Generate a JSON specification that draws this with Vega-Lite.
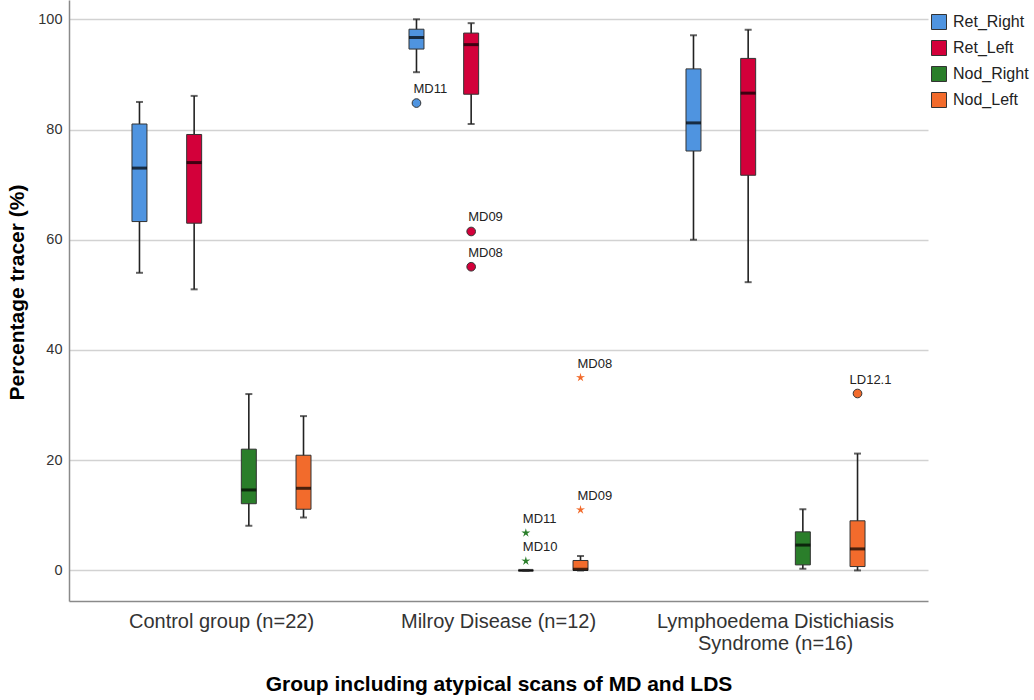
{
  "$schema": "https://vega.github.io/schema/vega-lite/v6.json",
  "width": 859,
  "height": 601,
  "autosize": {"type": "none"},
  "padding": {"left": 69, "top": 0, "right": 106, "bottom": 99},
  "background": "white",
  "config": {
    "font": "Liberation Sans",
    "view": {"stroke": null},
    "axis": {"domainColor": "#8a8a8a", "domainWidth": 1.5, "ticks": false, "labelColor": "#333333", "titleColor": "#000000", "titleFontSize": 21, "titleFontWeight": "bold"}
  },
  "datasets": {
    "boxes": [
      {"group": "Control group (n=22)", "series": "Ret_Right", "min": 54.0, "q1": 63.3, "median": 73.0, "q3": 81.0, "max": 85.0},
      {"group": "Control group (n=22)", "series": "Ret_Left", "min": 51.0, "q1": 63.0, "median": 74.0, "q3": 79.1, "max": 86.1},
      {"group": "Control group (n=22)", "series": "Nod_Right", "min": 8.1, "q1": 12.1, "median": 14.6, "q3": 22.0, "max": 32.0},
      {"group": "Control group (n=22)", "series": "Nod_Left", "min": 9.6, "q1": 11.1, "median": 14.9, "q3": 20.9, "max": 28.0},
      {"group": "Milroy Disease (n=12)", "series": "Ret_Right", "min": 90.4, "q1": 94.6, "median": 96.7, "q3": 98.2, "max": 100.0},
      {"group": "Milroy Disease (n=12)", "series": "Ret_Left", "min": 81.0, "q1": 86.4, "median": 95.4, "q3": 97.5, "max": 99.3},
      {"group": "Milroy Disease (n=12)", "series": "Nod_Right", "min": 0.0, "q1": 0.0, "median": 0.0, "q3": 0.0, "max": 0.0},
      {"group": "Milroy Disease (n=12)", "series": "Nod_Left", "min": 0.0, "q1": 0.0, "median": 0.2, "q3": 1.8, "max": 2.6},
      {"group": "Lymphoedema Distichiasis Syndrome (n=16)", "series": "Ret_Right", "min": 60.0, "q1": 76.1, "median": 81.2, "q3": 91.0, "max": 97.1},
      {"group": "Lymphoedema Distichiasis Syndrome (n=16)", "series": "Ret_Left", "min": 52.3, "q1": 71.7, "median": 86.6, "q3": 92.9, "max": 98.1},
      {"group": "Lymphoedema Distichiasis Syndrome (n=16)", "series": "Nod_Right", "min": 0.3, "q1": 1.0, "median": 4.6, "q3": 7.0, "max": 11.1},
      {"group": "Lymphoedema Distichiasis Syndrome (n=16)", "series": "Nod_Left", "min": 0.0, "q1": 0.7, "median": 3.9, "q3": 9.0, "max": 21.2}
    ],
    "outliers": [
      {"group": "Milroy Disease (n=12)", "series": "Ret_Right", "value": 84.8, "label": "MD11", "kind": "outlier"},
      {"group": "Milroy Disease (n=12)", "series": "Ret_Left", "value": 61.5, "label": "MD09", "kind": "outlier"},
      {"group": "Milroy Disease (n=12)", "series": "Ret_Left", "value": 55.1, "label": "MD08", "kind": "outlier"},
      {"group": "Milroy Disease (n=12)", "series": "Nod_Right", "value": 6.8, "label": "MD11", "kind": "extreme"},
      {"group": "Milroy Disease (n=12)", "series": "Nod_Right", "value": 1.7, "label": "MD10", "kind": "extreme"},
      {"group": "Milroy Disease (n=12)", "series": "Nod_Left", "value": 11.0, "label": "MD09", "kind": "extreme"},
      {"group": "Milroy Disease (n=12)", "series": "Nod_Left", "value": 35.0, "label": "MD08", "kind": "extreme"},
      {"group": "Lymphoedema Distichiasis Syndrome (n=16)", "series": "Nod_Left", "value": 32.1, "label": "LD12.1", "kind": "outlier"}
    ]
  },
  "encoding": {
    "x": {
      "field": "group", "type": "nominal",
      "sort": ["Control group (n=22)", "Milroy Disease (n=12)", "Lymphoedema Distichiasis Syndrome (n=16)"],
      "scale": {"paddingInner": 0, "paddingOuter": 0.0505},
      "title": "Group including atypical scans of MD and LDS",
      "axis": {"labelAngle": 0, "labelFontSize": 20, "labelPadding": 10, "labelLineHeight": 22, "labelLimit": 0, "titlePadding": 20,
        "labelExpr": "datum.value == 'Lymphoedema Distichiasis Syndrome (n=16)' ? ['Lymphoedema Distichiasis', 'Syndrome (n=16)'] : datum.value"}
    },
    "xOffset": {
      "field": "series", "type": "nominal",
      "scale": {"domain": ["Ret_Right", "Ret_Left", "Nod_Right", "Nod_Left"], "paddingInner": 0.726, "paddingOuter": 0.896}
    }
  },
  "layer": [
    {
      "data": {"name": "boxes"},
      "mark": {"type": "rule", "color": "#222222", "strokeWidth": 1.6},
      "encoding": {
        "y": {"field": "min", "type": "quantitative", "scale": {"domain": [-5.55, 103.5], "nice": false, "zero": false},
          "title": "Percentage tracer (%)",
          "axis": {"values": [0, 20, 40, 60, 80, 100], "ticks": false, "grid": true, "gridColor": "#d2d2d2", "gridWidth": 1.5,
            "labelFontSize": 14.5, "labelPadding": 7, "titlePadding": 10, "titleY": 292}},
        "y2": {"field": "max"}
      }
    },
    {
      "data": {"name": "boxes"},
      "mark": {"type": "bar", "stroke": "#333333", "strokeWidth": 1},
      "encoding": {
        "y": {"field": "q1", "type": "quantitative", "title": "Percentage tracer (%)"},
        "y2": {"field": "q3"},
        "color": {"field": "series", "type": "nominal",
          "scale": {"domain": ["Ret_Right", "Ret_Left", "Nod_Right", "Nod_Left"], "range": ["#4f94e0", "#d3003a", "#2a7e2a", "#f26b2c"]},
          "legend": {"title": null, "orient": "none", "legendX": 862, "legendY": 14, "symbolType": "square", "symbolSize": 225,
            "symbolStrokeColor": "#333333", "symbolStrokeWidth": 1, "labelFontSize": 16, "labelColor": "#222222", "rowPadding": 6, "labelOffset": 6, "padding": 0}}
      }
    },
    {
      "data": {"name": "boxes"},
      "mark": {"type": "tick", "color": "#000000", "size": 15, "thickness": 3, "orient": "horizontal"},
      "encoding": {"y": {"field": "median", "type": "quantitative", "title": "Percentage tracer (%)"}}
    },
    {
      "data": {"name": "boxes"},
      "mark": {"type": "tick", "color": "#222222", "size": 7, "thickness": 2, "orient": "horizontal"},
      "encoding": {"y": {"field": "min", "type": "quantitative", "title": "Percentage tracer (%)"}}
    },
    {
      "data": {"name": "boxes"},
      "mark": {"type": "tick", "color": "#222222", "size": 7, "thickness": 2, "orient": "horizontal"},
      "encoding": {"y": {"field": "max", "type": "quantitative", "title": "Percentage tracer (%)"}}
    },
    {
      "data": {"name": "outliers"},
      "transform": [{"filter": "datum.kind == 'outlier'"}],
      "mark": {"type": "point", "shape": "circle", "filled": true, "size": 75, "stroke": "#333333", "strokeWidth": 1, "opacity": 1},
      "encoding": {
        "y": {"field": "value", "type": "quantitative", "title": "Percentage tracer (%)"},
        "color": {"field": "series", "type": "nominal", "legend": null}
      }
    },
    {
      "data": {"name": "outliers"},
      "transform": [{"filter": "datum.kind == 'extreme'"}],
      "mark": {"type": "point", "filled": true, "size": 90, "opacity": 1,
        "shape": "M0,-1L0.2,-0.28L0.951,-0.309L0.33,0.11L0.588,0.809L0,0.35L-0.588,0.809L-0.33,0.11L-0.951,-0.309L-0.2,-0.28Z"},
      "encoding": {
        "y": {"field": "value", "type": "quantitative", "title": "Percentage tracer (%)"},
        "color": {"field": "series", "type": "nominal", "legend": null}
      }
    },
    {
      "data": {"name": "outliers"},
      "transform": [{"filter": "datum.label != 'LD12.1'"}],
      "mark": {"type": "text", "align": "left", "baseline": "alphabetic", "dx": -3, "dy": -10, "fontSize": 13, "color": "#222222"},
      "encoding": {
        "y": {"field": "value", "type": "quantitative", "title": "Percentage tracer (%)"},
        "text": {"field": "label"}
      }
    },
    {
      "data": {"name": "outliers"},
      "transform": [{"filter": "datum.label == 'LD12.1'"}],
      "mark": {"type": "text", "align": "left", "baseline": "alphabetic", "dx": -8, "dy": -10, "fontSize": 13, "color": "#222222"},
      "encoding": {
        "y": {"field": "value", "type": "quantitative", "title": "Percentage tracer (%)"},
        "text": {"field": "label"}
      }
    }
  ]
}
